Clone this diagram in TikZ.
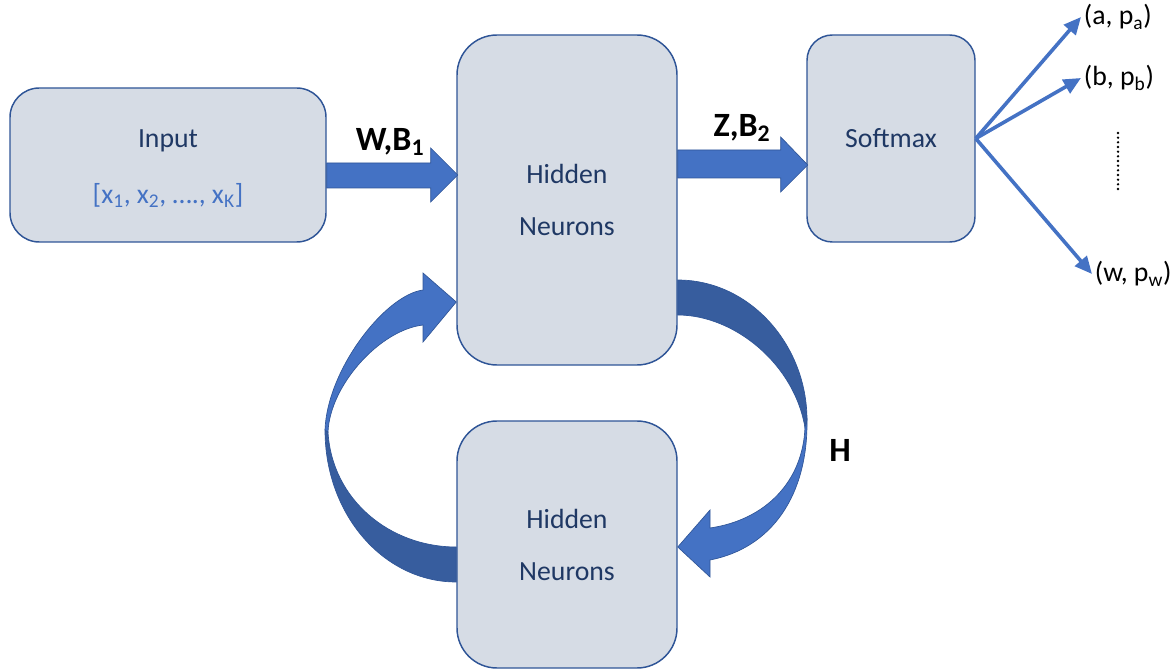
\documentclass[tikz,border=0pt]{standalone}
\usepackage{fontspec}
\setmainfont{Carlito}
\usetikzlibrary{calc,arrows.meta}
\definecolor{boxfill}{HTML}{D6DCE5}
\definecolor{boxline}{HTML}{2F5597}
\definecolor{txtnavy}{HTML}{1F3864}
\definecolor{lblue}{HTML}{4472C4}
\definecolor{dblue}{HTML}{375D9E}
\begin{document}
\begin{tikzpicture}[x=0.75pt,y=-0.75pt,
  box/.style={draw=boxline, line width=1.1pt, fill=boxfill, rounded corners=#1,
    inner sep=0pt, align=center, text=txtnavy, font=\fontsize{20.8}{39}\selectfont},
  box/.default=28pt,
  boxtext/.style={inner sep=0pt, align=center, text=txtnavy, font=\fontsize{20.8}{42}\selectfont},
  blockarrow/.style={fill=lblue, draw=boxline, line width=0.5pt},
  curvelight/.style={fill=lblue, draw=boxline, line width=0.5pt},
  curvedark/.style={fill=dblue, draw=boxline, line width=0.5pt},
  fan/.style={draw=lblue, line width=2.7pt, -{Triangle[length=13pt,width=11.5pt]}},
  outlab/.style={anchor=west, inner sep=2pt, text=black, font=\fontsize{20.8}{25}\selectfont},
  boldlab/.style={inner sep=0pt, text=black, font=\bfseries\fontsize{25.5}{30}\selectfont},
  dotline/.style={draw=black, line width=2pt, line cap=round, dash pattern=on 0pt off 3.5pt}]
\useasboundingbox (0,0) rectangle (1174,670);

% boxes
\node[box=22pt, minimum width=237pt, minimum height=115.5pt] (in) at (168,165) {};
\node[boxtext] (intext) at (168,169)
  {Input\\{\color{lblue}[x\textsubscript{1}, x\textsubscript{2}, …., x\textsubscript{K}]}};
\node[box=30pt, minimum width=165pt, minimum height=247.5pt] (h1) at (567,200) {Hidden\\Neurons};
\node[box=19pt, minimum width=126pt, minimum height=155.25pt] (sm) at (891,138.5) {Softmax};
\node[box=30pt, minimum width=165pt, minimum height=185.25pt] (h2) at (567,544.5) {Hidden\\Neurons};

% block arrow W,B1
\begin{scope}[shift={(in.east)}]
  \fill[blockarrow] (0,-2) -- (104,-2) -- (104,-17) -- (131,10) -- (104,37) -- (104,23) -- (0,23) -- cycle;
\end{scope}
% block arrow Z,B2
\begin{scope}[shift={(h1.east)}]
  \fill[blockarrow] (0,-50) -- (103,-50) -- (103,-63) -- (130,-35) -- (103,-8) -- (103,-22) -- (0,-22) -- cycle;
\end{scope}

\node[boldlab] (wb) at (390,142) {W,B\textsubscript{1}};
\node[boldlab] (zb) at (742,128) {Z,B\textsubscript{2}};
\node[boldlab] (hl) at (840,450) {H};

% left curved arrow (bottom box -> top box)
\path[curvedark] (325,430) .. controls (325,515) and (384,582) .. ($(h2.west)+(0,37.5)$)
  -- ($(h2.west)+(0,2.5)$) .. controls (390,547) and (332,500) .. (328,432) -- cycle;
\path[curvelight] (325,430) .. controls (327,370) and (385,295) .. (423,290)
  -- (423,273) -- ($(h1.west)+(0,102)$) -- (423,342) -- (423,325)
  .. controls (380,330) and (330,385) .. (328,432) -- cycle;

% right curved arrow (top box -> bottom box)
\path[curvedark] ($(h1.east)+(0,80)$) .. controls (750,280) and (807,345) .. (807,420)
  -- (805,428) .. controls (795,365) and (735,315) .. ($(h1.east)+(0,115)$) -- cycle;
\path[curvelight] (807,420) .. controls (808,495) and (772,548) .. (710,560)
  -- (710,577) -- ($(h2.east)+(0,2.5)$) -- (710,510) -- (710,528)
  .. controls (765,520) and (803,482) .. (805,427) -- cycle;

% outputs
\node[outlab] (pa) at (1081,17) {(a, p\textsubscript{a})};
\node[outlab] (pb) at (1081,78) {(b, p\textsubscript{b})};
\node[outlab] (pw) at (1092,274) {(w, p\textsubscript{w})};
\draw[fan] (sm.east) -- (pa.west);
\draw[fan] (sm.east) -- (pb.west);
\draw[fan] (sm.east) -- (pw.west);
\coordinate (d1) at (1118,133);
\coordinate (d2) at (1118,192);
\draw[dotline] (d1) -- (d2);
\end{tikzpicture}
\end{document}
